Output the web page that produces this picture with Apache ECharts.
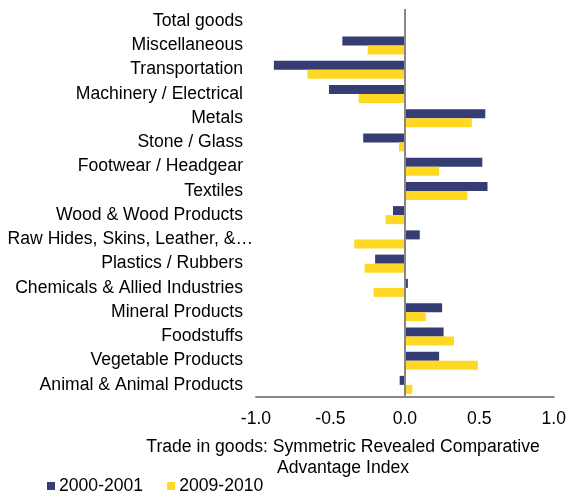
<!DOCTYPE html>
<html lang="en">
<head>
  <meta charset="utf-8">
  <title>Symmetric RCA</title>
  <script src="https://cdn.jsdelivr.net/npm/echarts@6/dist/echarts.min.js"></script>
  <style>
    html, body { margin: 0; padding: 0; background: #fff; }
    #main { width: 569px; height: 493px; }
  </style>
</head>
<body>
<div id="main"></div>
<script type="text/javascript">
// categories, top to bottom
var categories = ['Total goods', 'Miscellaneous', 'Transportation', 'Machinery / Electrical',
  'Metals', 'Stone / Glass', 'Footwear / Headgear', 'Textiles', 'Wood & Wood Products',
  'Raw Hides, Skins, Leather, &\u2026', 'Plastics / Rubbers', 'Chemicals & Allied Industries',
  'Mineral Products', 'Foodstuffs', 'Vegetable Products', 'Animal & Animal Products'];
var seriesNames = ['2000-2001', '2009-2010'];
var values2000 = [0, -0.42, -0.88, -0.51, 0.54, -0.28, 0.52, 0.555, -0.08, 0.10, -0.20, 0.02, 0.25, 0.26, 0.23, -0.035];
var values2009 = [0, -0.25, -0.655, -0.31, 0.45, -0.04, 0.23, 0.42, -0.13, -0.34, -0.27, -0.21, 0.14, 0.33, 0.49, 0.05];
var xTicks = { min: -1, max: 1, interval: 0.5 };

var font = 'Liberation Sans, Arial, sans-serif';
var fs = 17.6;
var myChart = echarts.init(document.getElementById('main'));

// the truncated label sticks out past the others, like in excel
var yData = categories.map(function (c) {
  if (c.indexOf('\u2026') >= 0) {
    return { value: c, textStyle: { padding: [0, -10, 0, 0] } };
  }
  return c;
});

var option = {
  animation: false,
  textStyle: { fontFamily: font },
  grid: { left: 256, right: 14, top: 9, bottom: 96, containLabel: false },
  title: {
    text: 'Trade in goods: Symmetric Revealed Comparative\nAdvantage Index',
    left: 338, top: 432, textAlign: 'center',
    textStyle: { fontFamily: font, fontSize: fs, fontWeight: 'normal', color: '#000', lineHeight: 21 }
  },
  legend: {
    data: seriesNames,
    left: 47, top: 477, padding: 0,
    icon: 'rect', itemWidth: 8, itemHeight: 8, itemGap: 24,
    textStyle: { fontFamily: font, fontSize: fs, color: '#000', padding: [0, 0, 0, -1] }
  },
  xAxis: {
    type: 'value',
    min: xTicks.min, max: xTicks.max, interval: xTicks.interval,
    axisLine: { show: true, lineStyle: { color: '#878787', width: 2 } },
    axisTick: { show: false },
    splitLine: { show: false },
    axisLabel: {
      margin: 13, fontFamily: font, fontSize: fs, color: '#000',
      formatter: function (v) { return v.toFixed(1); }
    }
  },
  yAxis: {
    type: 'category',
    data: yData,
    inverse: true,
    axisLine: { show: false, onZero: false },
    axisTick: { show: false },
    axisLabel: { margin: 13, fontFamily: font, fontSize: fs, color: '#000' }
  },
  series: [
    {
      name: seriesNames[0], type: 'bar', data: values2000,
      barWidth: 9, barGap: '0%',
      itemStyle: { color: '#353d74' },
      markLine: {
        silent: true, symbol: 'none', label: { show: false },
        lineStyle: { color: '#878787', width: 2, type: 'solid' },
        data: [{ xAxis: 0 }]
      }
    },
    {
      name: seriesNames[1], type: 'bar', data: values2009,
      barWidth: 9, barGap: '0%',
      itemStyle: { color: '#ffd823' }
    }
  ]
};
myChart.setOption(option);
</script>
</body>
</html>
